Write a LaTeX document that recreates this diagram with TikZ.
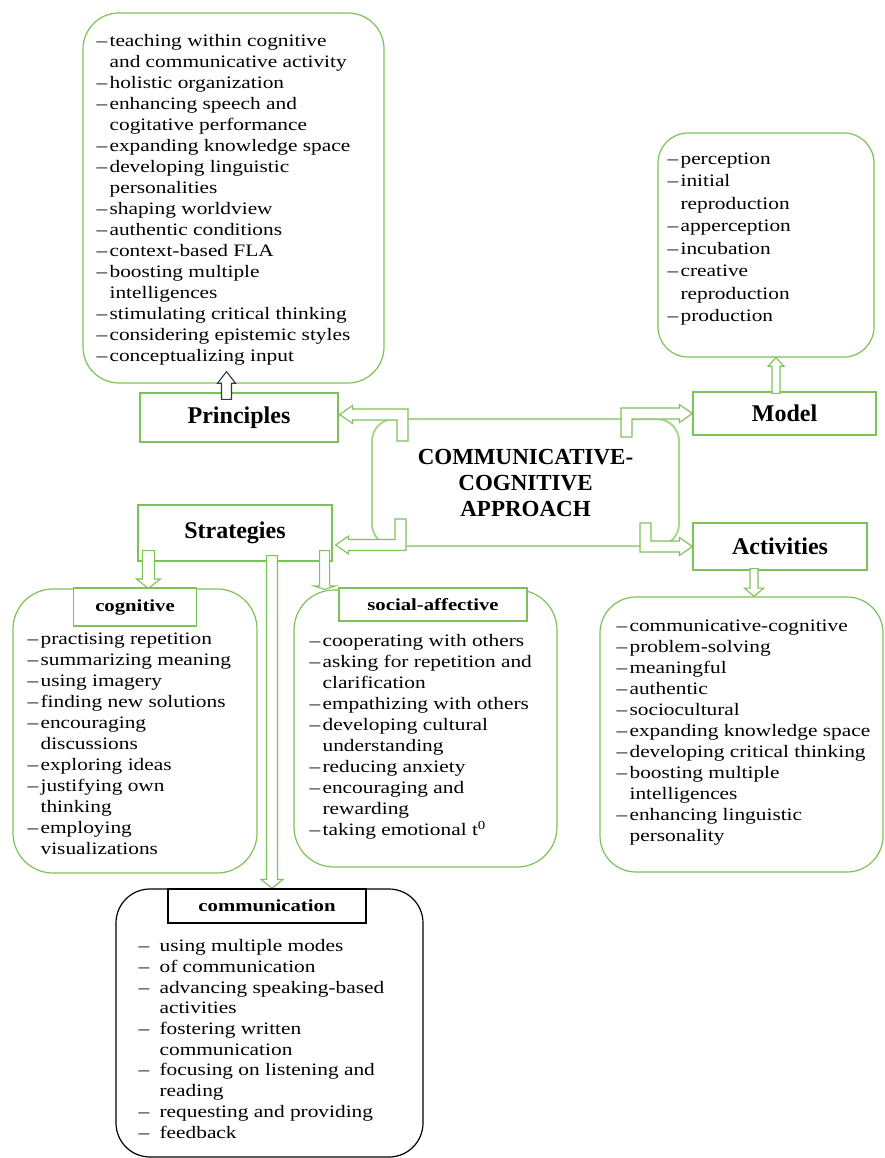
\documentclass[tikz,border=0pt]{standalone}
\usepackage{fontspec}
\setmainfont{Liberation Serif}
\newfontfamily\listfont[FakeStretch=1.22]{Liberation Serif}
\usepackage{tikz}
\usetikzlibrary{positioning, calc}
\definecolor{frame}    {HTML}{7DC256}
\definecolor{softframe}{HTML}{A9D78F}
\definecolor{arrdark}  {HTML}{3A3A3A}

\newcommand{\lidash}{\makebox[13pt][l]{–}}
\newcommand{\liind}{\hspace*{13pt}}
\newcommand{\cdash}{\makebox[21pt][l]{–}}
\newcommand{\cind}{\hspace*{21pt}}

% hollow straight block arrow: style, from, to, half shaft, half head, head length
\newcommand{\vblock}[6]{%
  \draw[#1] let \p1=(#2), \p2=(#3), \p3=($(#3)!#6!(#2)$) in
    ({\x1-#4},\y1) -- ({\x1-#4},\y3) -- ({\x1-#5},\y3) -- (\x1,\y2)
    -- ({\x1+#5},\y3) -- ({\x1+#4},\y3) -- ({\x1+#4},\y1) -- cycle;}
% hollow bent block arrow: style, from, tip, x direction, y direction
\newcommand{\bblock}[5]{%
  \draw[#1] let \p1=(#2), \p2=(#3) in
    ({\x1+(#4)*5.5},\y1) -- ({\x1+(#4)*5.5},{\y2-(#5)*5.5})
    -- ({\x2-(#4)*13},{\y2-(#5)*5.5}) -- ({\x2-(#4)*13},{\y2-(#5)*9})
    -- (\x2,\y2) -- ({\x2-(#4)*13},{\y2+(#5)*9})
    -- ({\x2-(#4)*13},{\y2+(#5)*5.5}) -- ({\x1-(#4)*5.5},{\y2+(#5)*5.5})
    -- ({\x1-(#4)*5.5},\y1) -- cycle;}

\begin{document}
\begin{tikzpicture}[x=1pt, y=-1pt,
    listbox/.style={draw=frame, line width=1.2pt, rounded corners=36pt, inner sep=0pt},
    headbox/.style={draw=frame, line width=1.2pt, inner sep=0pt,
                    font=\fontsize{24}{26}\selectfont\bfseries},
    sublab/.style={draw=frame, fill=white, line width=1.2pt, inner sep=0pt,
                   font=\listfont\bfseries\fontsize{17}{20}\selectfont},
    listtxt/.style={align=left, inner sep=0pt,
                    font=\listfont\fontsize{17.5}{21}\selectfont},
    blk/.style={draw=frame, fill=white, line width=1.1pt},
  ]
    \useasboundingbox (0,0) rectangle (884,1158);

    % principles
    \node[listbox, minimum width=301pt, minimum height=370pt] (plist) at (233.5,198) {};
    \node[listtxt, below right=22pt and 14pt of plist.north west] (ptxt)
      {\lidash teaching within cognitive\\
       \liind and communicative activity\\
       \lidash holistic organization\\
       \lidash enhancing speech and\\
       \liind cogitative performance\\
       \lidash expanding knowledge space\\
       \lidash developing linguistic\\
       \liind personalities\\
       \lidash shaping worldview\\
       \lidash authentic conditions\\
       \lidash context-based FLA\\
       \lidash boosting multiple\\
       \liind intelligences\\
       \lidash stimulating critical thinking\\
       \lidash considering epistemic styles\\
       \lidash conceptualizing input};
    \node[headbox, minimum width=198pt, minimum height=49pt] (princ) at (239,417.5) {Principles};

    % model
    \node[listbox, rounded corners=30pt, minimum width=216pt, minimum height=224pt] (mlist) at (766,245) {};
    \node[listtxt, font=\listfont\fontsize{17.5}{22.5}\selectfont,
          below right=20pt and 10pt of mlist.north west] (mtxt)
      {\lidash perception\\
       \lidash initial\\
       \liind reproduction\\
       \lidash apperception\\
       \lidash incubation\\
       \lidash creative\\
       \liind reproduction\\
       \lidash production};
    \node[headbox, minimum width=183pt, minimum height=43pt] (model) at (784.5,413.5) {Model};

    % centre
    \node[draw=softframe, line width=2pt, rounded corners=22pt, inner sep=0pt,
          minimum width=307pt, minimum height=127pt, align=center,
          font=\fontsize{23}{26}\selectfont\bfseries] (ccap) at (525.5,482.5)
      {COMMUNICATIVE-\\COGNITIVE\\APPROACH};

    % strategies and activities
    \node[headbox, minimum width=194pt, minimum height=56pt] (strat) at (235,533) {Strategies};
    \node[headbox, minimum width=174pt, minimum height=47pt] (act) at (780,546.5) {Activities};

    \node[listbox, minimum width=283pt, minimum height=275pt] (alist) at (741.5,734.5) {};
    \node[listtxt, below right=23pt and 17pt of alist.north west] (atxt)
      {\lidash communicative-cognitive\\
       \lidash problem-solving\\
       \lidash meaningful\\
       \lidash authentic\\
       \lidash sociocultural\\
       \lidash expanding knowledge space\\
       \lidash developing critical thinking\\
       \lidash boosting multiple\\
       \liind intelligences\\
       \lidash enhancing linguistic\\
       \liind personality};

    \node[listbox, rounded corners=40pt, minimum width=244pt, minimum height=284pt] (cogbox) at (135,731) {};
    \node[listtxt, below right=44pt and 15pt of cogbox.north west] (cogtxt)
      {\lidash practising repetition\\
       \lidash summarizing meaning\\
       \lidash using imagery\\
       \lidash finding new solutions\\
       \lidash encouraging\\
       \liind discussions\\
       \lidash exploring ideas\\
       \lidash justifying own\\
       \liind thinking\\
       \lidash employing\\
       \liind visualizations};

    \node[listbox, rounded corners=40pt, minimum width=263pt, minimum height=277pt] (socbox) at (425.5,728.5) {};
    \node[listtxt, below right=45pt and 16pt of socbox.north west] (soctxt)
      {\lidash cooperating with others\\
       \lidash asking for repetition and\\
       \liind clarification\\
       \lidash empathizing with others\\
       \lidash developing cultural\\
       \liind understanding\\
       \lidash reducing anxiety\\
       \lidash encouraging and\\
       \liind rewarding\\
       \lidash taking emotional t\textsuperscript{0}};

    \node[listbox, draw=black, rounded corners=34pt, minimum width=307pt, minimum height=268pt] (combox) at (269.5,1023) {};
    \node[listtxt, font=\listfont\fontsize{17.5}{20.7}\selectfont,
          below right=51pt and 23pt of combox.north west] (comtxt)
      {\cdash using multiple modes\\
       \cdash of communication\\
       \cdash advancing speaking-based\\
       \cind activities\\
       \cdash fostering written\\
       \cind communication\\
       \cdash focusing on listening and\\
       \cind reading\\
       \cdash requesting and providing\\
       \cdash feedback};

    % arrow ends
    \coordinate (cpr) at ($(ccap.north west)+(31.5,23)$);
    \coordinate (tpr) at ($(princ.east)+(1,-3)$);
    \coordinate (cmo) at ($(ccap.north east)+(-53.5,19)$);
    \coordinate (cst) at ($(ccap.south west)+(29.5,-28)$);
    \coordinate (tst) at ($(strat.east)+(3,12)$);
    \coordinate (cac) at ($(ccap.south east)+(-34.5,-24)$);
    \coordinate (pup) at ($(princ.north)+(-12.5,7)$);
    \coordinate (ptop) at ($(plist.south)+(0,-12)$);
    \coordinate (mup) at ($(model.north)+(-8.5,2)$);
    \coordinate (adn) at ($(act.south)+(-26,-2)$);
    \coordinate (sl) at ($(strat.south west)+(11,-11)$);
    \coordinate (sm) at ($(strat.south)+(37,-6)$);
    \coordinate (sr) at ($(strat.south east)+(-8,-11)$);

    \bblock{blk}{cpr}{tpr}{-1}{1}
    \bblock{blk}{cmo}{model.west}{1}{1}
    \bblock{blk}{cst}{tst}{-1}{-1}
    \bblock{blk}{cac}{act.west}{1}{-1}

    \vblock{blk, draw=arrdark}{pup}{ptop}{5}{9}{12pt}
    \vblock{blk}{mup}{mlist.south}{4}{8}{9pt}
    \vblock{blk}{adn}{alist.north}{4}{9.5}{9pt}
    \vblock{blk}{sl}{cogbox.north}{6}{12}{10pt}
    \vblock{blk}{sr}{socbox.north}{5}{11}{10pt}
    \vblock{blk}{sm}{combox.north}{5.5}{11}{9pt}

    % sub headings
    \node[sublab, minimum width=123pt, minimum height=38pt, below=-1pt of cogbox.north] (coglab) {cognitive};
    \node[sublab, minimum width=188pt, minimum height=33pt, below=-2pt of socbox.north, xshift=7.5pt] (soclab) {social-affective};
    \node[sublab, draw=black, minimum width=198pt, minimum height=34pt, below=0pt of combox.north, xshift=-2.5pt] (comlab) {communication};
  \end{tikzpicture}
\end{document}
